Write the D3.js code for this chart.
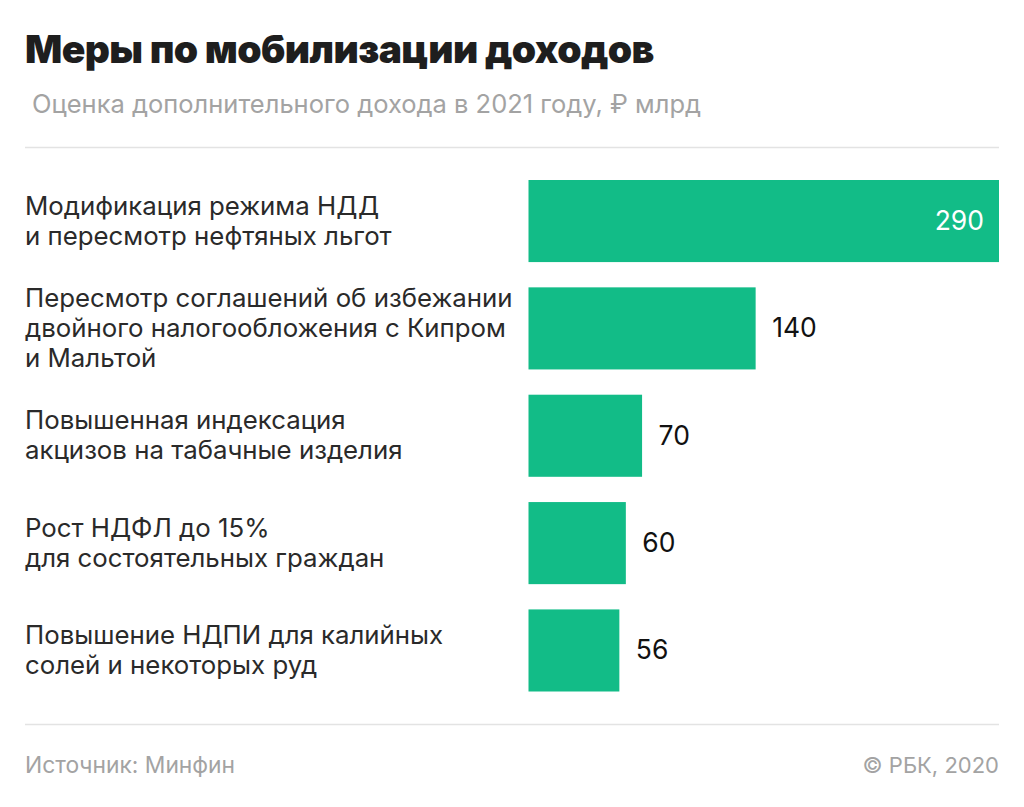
<!DOCTYPE html>
<html>
<head>
<meta charset="utf-8">
<script src="https://cdn.jsdelivr.net/npm/d3@7"></script>
<style>
	html, body { margin: 0; padding: 0; background: #fff; }
	text { font-family: Inter, 'Noto Sans', sans-serif; }
</style>
</head>
<body>
<svg class="chart"></svg>
<script>
var categories = [
	['Модификация режима НДД', 'и пересмотр нефтяных льгот'],
	['Пересмотр соглашений об избежании', 'двойного налогообложения с Кипром', 'и Мальтой'],
	['Повышенная индексация', 'акцизов на табачные изделия'],
	['Рост НДФЛ до 15%', 'для состоятельных граждан'],
	['Повышение НДПИ для калийных', 'солей и некоторых руд']
]
var values = [290, 140, 70, 60, 56]

var width = 1024,
	height = 807

var chart = d3.select('.chart').attr('width', width).attr('height', height).style('display', 'block')

var x = d3.scaleLinear().domain([0, 290]).range([528.5, 999])
var y = d3.scaleBand().domain(d3.range(values.length)).range([180, 691.5]).paddingInner(0.2354)

// header
chart.append('text').attr('x', 25).attr('y', 63).attr('font-size', 39).attr('font-weight', 900)
	.attr('fill', '#1e1e1e').attr('letter-spacing', -0.6).text('Меры по мобилизации доходов')
chart.append('text').attr('x', 32).attr('y', 113).attr('font-size', 25.5).attr('fill', '#a3a3a3')
	.text('Оценка дополнительного дохода в 2021 году, ₽ млрд')

// rules
chart.selectAll('line.rule').data([147.5, 724.5]).enter().append('line').attr('class', 'rule')
	.attr('x1', 25).attr('x2', 999).attr('y1', function(d) { return d }).attr('y2', function(d) { return d })
	.attr('stroke', '#e3e3e3').attr('stroke-width', 1.5)

var row = chart.selectAll('g.row').data(values).enter().append('g').attr('class', 'row')

row.append('rect')
	.attr('x', x(0))
	.attr('y', function(d, i) { return y(i) })
	.attr('width', function(d) { return x(d) - x(0) })
	.attr('height', y.bandwidth())
	.attr('fill', '#12bc87')

row.append('text')
	.attr('x', function(d) { return d > 200 ? x(d) - 15 : x(d) + 16.5 })
	.attr('y', function(d, i) { return y(i) + y.bandwidth() / 2 + 9 })
	.attr('text-anchor', function(d) { return d > 200 ? 'end' : 'start' })
	.attr('font-size', 26.5)
	.attr('fill', function(d) { return d > 200 ? '#fff' : '#111' })
	.text(function(d) { return d })

// category labels, line by line
row.each(function(d, i) {
	var lines = categories[i]
	var lineH = 30
	var top = y(i) + y.bandwidth() / 2 - (lines.length - 1) * lineH / 2 + 8.5
	d3.select(this).selectAll('text.label').data(lines).enter().append('text').attr('class', 'label')
		.attr('x', 25)
		.attr('y', function(l, j) { return top + j * lineH })
		.attr('font-size', 25.8)
		.attr('fill', '#2a2a2a')
		.text(function(l) { return l })
})

// footer
chart.append('text').attr('x', 25).attr('y', 773).attr('font-size', 22.8).attr('fill', '#a3a3a3').text('Источник: Минфин')
chart.append('text').attr('x', 999).attr('y', 773).attr('font-size', 22).attr('fill', '#a3a3a3')
	.attr('text-anchor', 'end').text('© РБК, 2020')
</script>
</body>
</html>
